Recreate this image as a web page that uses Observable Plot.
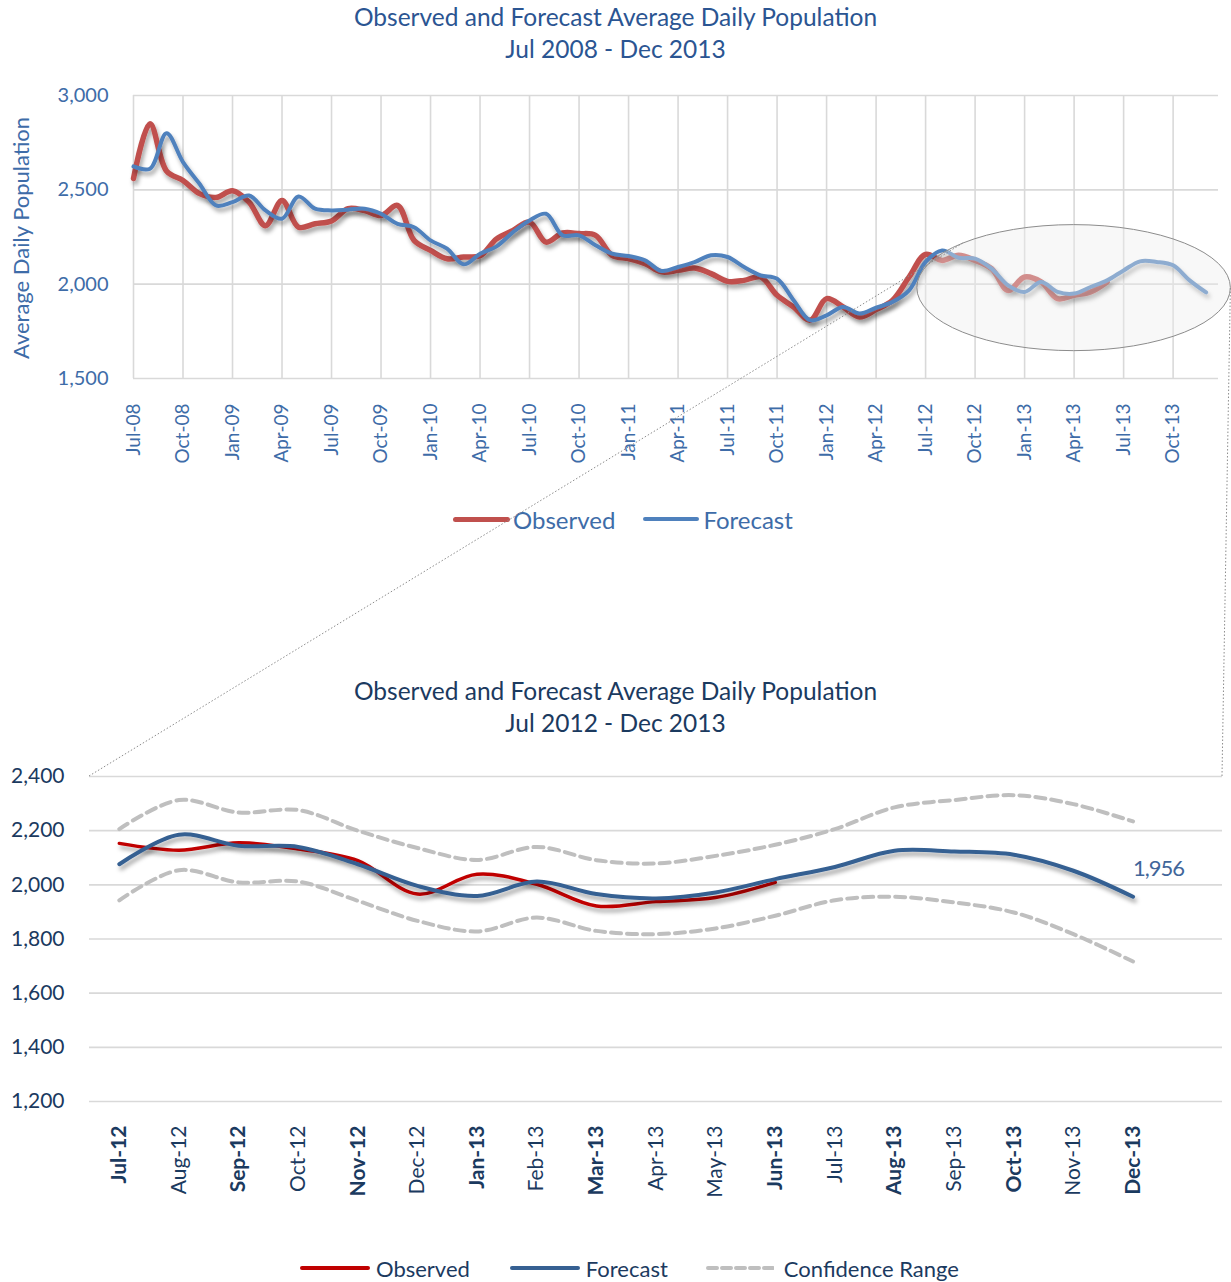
<!DOCTYPE html>
<html><head><meta charset="utf-8">
<script src="https://cdn.jsdelivr.net/npm/d3@7"></script>
<script src="https://cdn.jsdelivr.net/npm/@observablehq/plot@0.6"></script>
<style>
body{margin:0;background:#fff;font-family:Lato,"Open Sans",sans-serif;}
#root{position:relative;width:1231px;height:1282px;overflow:hidden;background:#fff;}
.title{position:absolute;left:0;width:1231px;text-align:center;line-height:32px;}
.legend{position:absolute;display:flex;align-items:center;height:30px;white-space:nowrap;}
.sw{display:inline-block;border-radius:3px;}
#overlay{position:absolute;left:0;top:0;pointer-events:none;}
svg.chart{position:absolute;left:0;}
</style></head><body><div id="root"></div>
<script>
// ---------- DATA ----------
const topTickLabels = ["Jul-08","Oct-08","Jan-09","Apr-09","Jul-09","Oct-09","Jan-10","Apr-10","Jul-10","Oct-10","Jan-11","Apr-11","Jul-11","Oct-11","Jan-12","Apr-12","Jul-12","Oct-12","Jan-13","Apr-13","Jul-13","Oct-13"];
// monthly, Jul-08 .. Jun-13
const topObserved = [2560,2850,2600,2550,2480,2460,2495,2435,2310,2444,2302,2320,
  2335,2400,2390,2364,2417,2232,2179,2135,2144,2150,2240,2285,
  2329,2223,2271,2268,2259,2153,2135,2109,2065,2073,2086,2056,
  2015,2020,2038,1941,1879,1809,1923,1879,1826,1865,1915,2038,
  2158,2126,2153,2126,2082,1967,2038,2012,1923,1941,1959,2012];
// monthly, Jul-08 .. Dec-13
const topForecast = [2624,2612,2800,2647,2532,2417,2435,2470,2391,2347,2465,2400,
  2391,2395,2400,2373,2320,2302,2232,2188,2105,2161,2200,2276,
  2338,2373,2259,2259,2206,2162,2149,2126,2070,2091,2117,2153,
  2144,2091,2047,2029,1915,1809,1835,1879,1844,1875,1906,1967,
  2118,2179,2140,2135,2082,1994,1959,2012,1959,1950,1985,2020,
  2073,2121,2118,2100,2020,1956];

const bottomMonths = ["Jul-12","Aug-12","Sep-12","Oct-12","Nov-12","Dec-12","Jan-13","Feb-13","Mar-13","Apr-13","May-13","Jun-13","Jul-13","Aug-13","Sep-13","Oct-13","Nov-13","Dec-13"];
const bottomObserved = [2153,2128,2155,2132,2089,1966,2039,2002,1922,1938,1953,2009];
const bottomForecast = [2076,2185,2144,2140,2076,1996,1959,2012,1966,1950,1972,2021,2066,2126,2123,2111,2052,1956];
const bottomUpper = [2206,2313,2267,2276,2200,2136,2092,2140,2091,2079,2107,2148,2206,2286,2313,2331,2298,2234];
const bottomLower = [1943,2054,2009,2012,1941,1867,1828,1879,1830,1818,1839,1886,1943,1956,1935,1898,1818,1717];

const topYTicks = [1500,2000,2500,3000];
const bottomYTicks = [1200,1400,1600,1800,2000,2200,2400];
// highlight ellipse (data space: month index, value)
const zoomEllipse = {cx: 57, cy: 1979, rx: 9.5, ry: 334};
const boldBottomLabels = [0,2,4,6,8,11,13,15,17];

// ---------- STYLE ----------
const C = {
  obsTop:"#C0504D", fcTop:"#4F81BD", axisTop:"#3E6CA8", titleTop:"#2B5592",
  obsBot:"#C00000", fcBot:"#366092", conf:"#BFBFBF", axisBot:"#1B3A5F", grid:"#D9D9D9"
};
const root = document.getElementById("root");
const fmt = d3.format(",");

function addTitle(lines, top, color, size){
  const d = document.createElement("div");
  d.className="title"; d.style.top = top+"px"; d.style.color=color; d.style.fontSize=size+"px";
  d.innerHTML = lines.join("<br>");
  root.appendChild(d);
}
function addShadow(svg, id){
  const defs = d3.select(svg).insert("defs", ":first-child");
  defs.append("filter").attr("id", id).attr("x","-5%").attr("y","-20%").attr("width","110%").attr("height","140%")
    .append("feDropShadow").attr("dx",2).attr("dy",4).attr("stdDeviation",2)
    .attr("flood-color","#000").attr("flood-opacity",0.35);
  d3.select(svg).selectAll('g[aria-description="shadow"]').attr("filter", `url(#${id})`);
}

// ---------- TOP CHART ----------
addTitle(["Observed and Forecast Average Daily Population","Jul 2008 - Dec 2013"], 1, C.titleTop, 24.5);

const topObsData = topObserved.map((v,i)=>({i, v}));
const topFcData = topForecast.map((v,i)=>({i, v}));
const topTickIdx = topTickLabels.map((_,k)=>k*3);

const topPlot = Plot.plot({
  width:1231, height:388,
  marginLeft:133, marginRight:13, marginTop:15, marginBottom:90,
  x:{domain:[0,65.75]},
  y:{domain:[1500,3000]},
  style:{fontFamily:"Lato, 'Open Sans', sans-serif", background:"transparent", overflow:"visible", color:C.axisTop},
  marks:[
    Plot.gridX({ticks:topTickIdx, stroke:C.grid, strokeOpacity:1, strokeWidth:1.6}),
    Plot.gridY({ticks:topYTicks, stroke:C.grid, strokeOpacity:1, strokeWidth:1.6}),
    Plot.axisY({ticks:topYTicks, tickFormat:fmt, tickSize:0, tickPadding:25, label:null, fontSize:20}),
    Plot.axisX({ticks:topTickIdx, tickFormat:i=>topTickLabels[Math.round(i/3)], tickRotate:-90, tickSize:0, tickPadding:25, label:null, fontSize:19}),
    Plot.line(topObsData,{x:"i", y:"v", stroke:C.obsTop, strokeWidth:5.5, curve:"catmull-rom", ariaDescription:"shadow"}),
    Plot.line(topFcData,{x:"i", y:"v", stroke:C.fcTop, strokeWidth:4, curve:"catmull-rom", ariaDescription:"shadow"})
  ]
});
topPlot.classList.add("chart");
topPlot.style.top = "80px";
root.appendChild(topPlot);
addShadow(topPlot, "shTop");

// highlight ellipse via scales
const tx = topPlot.scale("x"), ty = topPlot.scale("y");
const eCx = tx.apply(zoomEllipse.cx), eCy = ty.apply(zoomEllipse.cy);
const eRx = tx.apply(zoomEllipse.cx + zoomEllipse.rx) - eCx;
const eRy = ty.apply(zoomEllipse.cy - zoomEllipse.ry) - eCy;
d3.select(topPlot).append("ellipse")
  .attr("cx",eCx).attr("cy",eCy).attr("rx",eRx).attr("ry",eRy)
  .attr("fill","#EDEDED").attr("fill-opacity",0.4).attr("stroke","#8C8C8C").attr("stroke-width",1);

// y axis title
const yt = document.createElement("div");
yt.textContent = "Average Daily Population";
Object.assign(yt.style,{position:"absolute",left:"20px",top:"238px",transform:"translate(-50%,-50%) rotate(-90deg)",
  whiteSpace:"nowrap",fontSize:"22px",color:C.axisTop});
root.appendChild(yt);

function legend(left, centerY, items, color, size){
  const d = document.createElement("div");
  d.className="legend"; d.style.left=left+"px"; d.style.top=(centerY-15)+"px"; d.style.color=color; d.style.fontSize=size+"px";
  items.forEach((it,k)=>{
    if (it.dash){
      const s = document.createElementNS("http://www.w3.org/2000/svg","svg");
      s.setAttribute("width",it.w); s.setAttribute("height",8);
      s.innerHTML = `<line x1="2" y1="4" x2="${it.w}" y2="4" stroke="${it.color}" stroke-width="${it.h}" stroke-dasharray="9,5" stroke-linecap="round"/>`;
      s.style.marginLeft = (it.gap||0)+"px";
      d.appendChild(s);
    } else {
      const s = document.createElement("span"); s.className="sw";
      Object.assign(s.style,{width:it.w+"px",height:it.h+"px",background:it.color,marginLeft:(it.gap||0)+"px"});
      d.appendChild(s);
    }
    const t = document.createElement("span"); t.textContent=it.label; t.style.marginLeft=it.tgap+"px";
    d.appendChild(t);
  });
  root.appendChild(d);
}
legend(453, 519, [
  {label:"Observed", color:C.obsTop, w:57, h:5, tgap:3},
  {label:"Forecast", color:C.fcTop, w:56, h:4, tgap:4, gap:28}
], C.axisTop, 24);

// ---------- BOTTOM CHART ----------
addTitle(["Observed and Forecast Average Daily Population","Jul 2012 - Dec 2013"], 675, C.axisBot, 24.5);

const bObs = bottomObserved.map((v,i)=>({i,v}));
const bFc = bottomForecast.map((v,i)=>({i,v}));
const bUp = bottomUpper.map((v,i)=>({i,v}));
const bLo = bottomLower.map((v,i)=>({i,v}));
const bIdx = bottomMonths.map((_,i)=>i);

const botPlot = Plot.plot({
  width:1231, height:441,
  marginLeft:89, marginRight:9, marginTop:16, marginBottom:100,
  x:{domain:[-0.5,18.5]},
  y:{domain:[1200,2400]},
  style:{fontFamily:"Lato, 'Open Sans', sans-serif", background:"transparent", overflow:"visible", color:C.axisBot},
  marks:[
    Plot.gridY({ticks:bottomYTicks, stroke:C.grid, strokeOpacity:1, strokeWidth:1.6}),
    Plot.axisY({ticks:bottomYTicks, tickFormat:fmt, tickSize:0, tickPadding:25, label:null, fontSize:21}),
    Plot.axisX({ticks:bIdx, tickFormat:i=>bottomMonths[i], tickRotate:-90, tickSize:0, tickPadding:24, label:null, fontSize:21}),
    Plot.line(bUp,{x:"i", y:"v", stroke:C.conf, strokeWidth:4, strokeDasharray:"10,6", curve:"catmull-rom"}),
    Plot.line(bLo,{x:"i", y:"v", stroke:C.conf, strokeWidth:4, strokeDasharray:"10,6", curve:"catmull-rom"}),
    Plot.line(bObs,{x:"i", y:"v", stroke:C.obsBot, strokeWidth:3.5, curve:"catmull-rom", ariaDescription:"shadow"}),
    Plot.line(bFc,{x:"i", y:"v", stroke:C.fcBot, strokeWidth:4, curve:"catmull-rom", ariaDescription:"shadow"}),
    Plot.text(bFc.slice(-1),{x:"i", y:"v", text:d=>fmt(d.v), dx:0, dy:-28, textAnchor:"start", fill:"#41669A", fontSize:22})
  ]
});
botPlot.classList.add("chart");
botPlot.style.top = "760px";
root.appendChild(botPlot);
addShadow(botPlot, "shBot");
d3.select(botPlot).selectAll('g[aria-label="x-axis tick label"] text')
  .attr("font-weight",(d,k)=> boldBottomLabels.includes(k) ? 700 : 400);
d3.select(botPlot).selectAll('g[aria-label="text"] text').attr("letter-spacing","-1px");

legend(300, 1268, [
  {label:"Observed", color:C.obsBot, w:70, h:4, tgap:6},
  {label:"Forecast", color:C.fcBot, w:70, h:4, tgap:6, gap:40},
  {label:"Confidence Range", color:C.conf, w:68, h:4, tgap:10, gap:38, dash:true}
], C.axisBot, 22);

// ---------- CONNECTORS (overlay) ----------
const bx = botPlot.scale("x"), by = botPlot.scale("y");
const bLeft = bx.range[0], bRight = bx.range[1], bTop = 760 + by.apply(2400);
const ang = Math.PI*1.25;
const p1 = [eCx + eRx*Math.cos(ang), 80 + eCy + eRy*Math.sin(ang)];
const p2 = [eCx + eRx, 80 + eCy];
const ov = d3.select(root).append("svg").attr("id","overlay").attr("width",1231).attr("height",1282);
ov.append("line").attr("x1",bLeft).attr("y1",bTop).attr("x2",p1[0]).attr("y2",p1[1])
  .attr("stroke","#8C8C8C").attr("stroke-width",1).attr("stroke-dasharray","1.5,2");
ov.append("line").attr("x1",bRight).attr("y1",bTop).attr("x2",p2[0]).attr("y2",p2[1])
  .attr("stroke","#8C8C8C").attr("stroke-width",1).attr("stroke-dasharray","1.5,2");
</script></body></html>
